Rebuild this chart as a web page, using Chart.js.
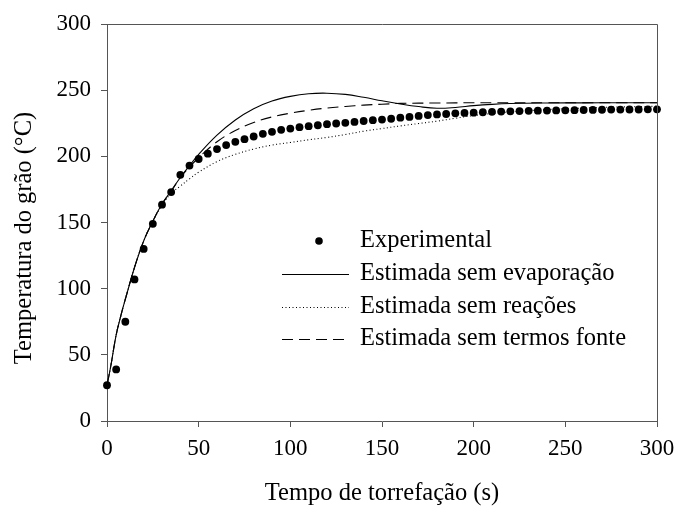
<!DOCTYPE html>
<html>
<head>
<meta charset="utf-8">
<script src="https://cdn.jsdelivr.net/npm/chart.js@4/dist/chart.umd.min.js"></script>
<style>
  html, body { margin: 0; padding: 0; background: #fff; }
  #grafico { display: block; }
</style>
</head>
<body>
<canvas id="grafico" width="676" height="506"></canvas>
<script>
// pontos experimentais, a cada 5 s
const tempoExp = [0,5,10,15,20,25,30,35,40,45,50,55,60,65,70,75,80,85,90,95,
                  100,105,110,115,120,125,130,135,140,145,150,155,160,165,170,175,180,185,190,195,
                  200,205,210,215,220,225,230,235,240,245,250,255,260,265,270,275,280,285,290,295,300];
const tempExp = [27,39,75,107,130,149,163.5,173,186,193,198,202,205.5,208.5,211,213,215,217,218.5,220,
                 221,222,222.8,223.5,224.3,224.8,225.3,226,226.7,227.3,227.8,228.4,229.2,229.8,230.5,231.2,231.7,232,232.5,232.8,
                 233,233.3,233.6,233.8,234,234.2,234.4,234.5,234.6,234.7,234.8,234.9,235,235.1,235.2,235.3,235.3,235.4,235.4,235.5,235.5];

// curvas estimadas
const tempoModelo = [0,2,5,8,10,15,20,25,30,35,40,45,50,60,70,80,90,100,110,120,
                     130,140,150,160,170,180,190,200,210,220,240,260,280,300];
const semEvaporacao = [27,41,65,82,92,116,136,151,164,174,184,193,201.5,216,227.5,236,241.8,245.3,247.3,247.7,
                       246.8,244.6,242,239.6,237.6,236.3,236.9,238.3,239.3,239.9,240.3,240.4,240.5,240.5];
const semReacoes = [27,41,65,82,92,116,136,151,163,172,177.5,183,188,196,201.5,205.5,208.5,210.5,212.5,214.3,
                    216.5,219,221,223,224.8,226.6,228.8,230.8,232.4,233.6,235.3,236.5,237.3,237.8];
const semTermosFonte = [27,41,65,82,92,116,136,151,164,173.5,184,192,199,211,219.5,225.5,229.8,232.6,234.8,236.5,
                        237.7,238.7,239.4,240,240.2,240.3,240.4,240.5,240.5,240.5,240.5,240.5,240.5,240.5];

const nomes = ["Experimental", "Estimada sem evaporação", "Estimada sem reações", "Estimada sem termos fonte"];
const tituloX = "Tempo de torrefação (s)";
const tituloY = "Temperatura do grão (°C)";

const fonte = "'Liberation Serif', 'Times New Roman', serif";
const corEixo = "#555";
const tracejado = [11, 6];
const pontilhado = [1, 2.5];

function pares(xs, ys){
    return xs.map((x, i) => ({ x: x, y: ys[i] }));
}

function linha(nome, ys, dash){
    return {
        label: nome,
        data: pares(tempoModelo, ys),
        borderColor: "#000",
        borderWidth: 1.1,
        borderDash: dash,
        pointRadius: 0,
        fill: false,
        tension: 0.4,
        order: 1
    };
}

// moldura superior/direita, titulo do eixo y e legenda dentro da area
const extras = {
    id: "extras",
    afterDraw(chart){
        const ctx = chart.ctx;
        const a = chart.chartArea;
        ctx.save();
        ctx.strokeStyle = corEixo;
        ctx.lineWidth = 1;
        ctx.beginPath();
        ctx.moveTo(a.left, a.top + 0.5);
        ctx.lineTo(a.right + 0.5, a.top + 0.5);
        ctx.lineTo(a.right + 0.5, a.bottom);
        ctx.stroke();

        ctx.fillStyle = "#000";
        ctx.font = "24.5px " + fonte;
        ctx.textAlign = "center";
        ctx.textBaseline = "middle";
        ctx.translate(25, 238);
        ctx.rotate(-Math.PI / 2);
        ctx.fillText(tituloY, 0, 0);
        ctx.restore();

        // legenda
        ctx.save();
        ctx.font = "24.5px " + fonte;
        ctx.textAlign = "left";
        ctx.textBaseline = "middle";
        ctx.fillStyle = "#000";
        const linhasY = [241, 274, 307, 339];
        const dashes = [null, [], pontilhado, tracejado];
        nomes.forEach((n, i) => {
            const y = linhasY[i];
            if (i === 0){
                ctx.beginPath();
                ctx.arc(319, y, 3.8, 0, Math.PI * 2);
                ctx.fill();
            } else {
                ctx.strokeStyle = "#000";
                ctx.lineWidth = 1.1;
                ctx.setLineDash(dashes[i]);
                ctx.beginPath();
                ctx.moveTo(282, y + 0.5);
                ctx.lineTo(349, y + 0.5);
                ctx.stroke();
                ctx.setLineDash([]);
            }
            ctx.fillText(n, 360, y);
        });
        ctx.restore();
    }
};

new Chart(document.getElementById("grafico"), {
    type: "line",
    data: {
        datasets: [
            {
                label: nomes[0],
                data: pares(tempoExp, tempExp),
                showLine: false,
                pointRadius: 3.9,
                pointBackgroundColor: "#000",
                pointBorderWidth: 0,
                clip: false,
                order: 0
            },
            linha(nomes[1], semEvaporacao, []),
            linha(nomes[2], semReacoes, pontilhado),
            linha(nomes[3], semTermosFonte, tracejado)
        ]
    },
    options: {
        responsive: false,
        animation: false,
        devicePixelRatio: 1,
        layout: { padding: { top: 24, right: 19, left: 0, bottom: 0 } },
        plugins: {
            legend: { display: false },
            tooltip: { enabled: false }
        },
        scales: {
            x: {
                type: "linear",
                min: 0, max: 300,
                ticks: { stepSize: 50, color: "#000", font: { family: fonte, size: 23 }, padding: 8, maxRotation: 0 },
                grid: { drawOnChartArea: false, drawTicks: true, tickLength: 6, color: corEixo },
                border: { display: true, color: corEixo, width: 1 },
                title: { display: true, text: tituloX, color: "#000", font: { family: fonte, size: 24.5, lineHeight: 1 }, padding: { top: 0, bottom: 0 } },
                afterFit: (s) => { s.height = 85; s.paddingLeft = 0; s.paddingRight = 0; }
            },
            y: {
                min: 0, max: 300,
                ticks: { stepSize: 50, color: "#000", font: { family: fonte, size: 23 }, padding: 10 },
                grid: { drawOnChartArea: false, drawTicks: true, tickLength: 6, color: corEixo },
                border: { display: true, color: corEixo, width: 1 },
                afterFit: (s) => { s.width = 107; s.paddingTop = 0; s.paddingBottom = 0; }
            }
        }
    },
    plugins: [extras]
});
</script>
</body>
</html>
